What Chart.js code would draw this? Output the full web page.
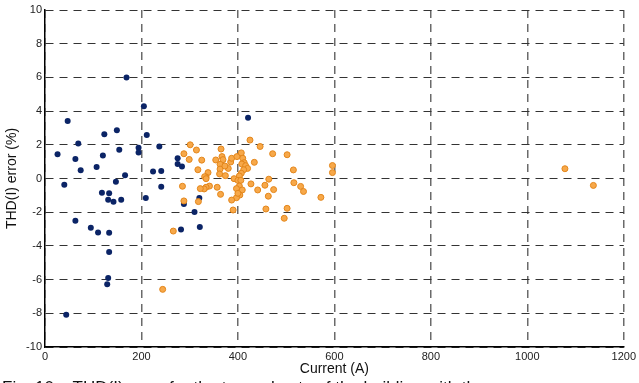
<!DOCTYPE html>
<html>
<head>
<meta charset="utf-8">
<script src="https://cdn.jsdelivr.net/npm/chart.js@4/dist/chart.umd.min.js"></script>
<style>
  html, body { margin: 0; padding: 0; background: #fff; overflow: hidden; }
  #wrap { position: relative; width: 639px; height: 383px; overflow: hidden; }
  #caption {
    position: absolute; left: 2px; top: 379px; white-space: nowrap;
    font: 17px "Liberation Sans", Arial, sans-serif; line-height: 17px; color: #111;
  }
</style>
</head>
<body>
<div id="wrap">
  <canvas id="grafico" width="639" height="383"></canvas>
  <div id="caption">Fig. 10 – THD(I) error for the two subsets of the building with the</div>
</div>
<script>
// subset 1 (navy points): current in A, THD(I) error in %
const subset1Current = [169, 205, 47, 149, 123, 211, 69, 194, 194, 26, 154, 63, 120, 237, 74, 107, 166, 224, 421, 241, 275, 275, 284,
  40, 147, 118, 133, 131, 142, 158, 209, 63, 95, 110, 133, 133, 131, 129, 44, 241, 320, 288, 310, 282, 321];
const subset1Error = [6.0, 4.29, 3.41, 2.86, 2.62, 2.58, 2.07, 1.83, 1.55, 1.44, 1.71, 1.16, 1.36, 1.9, 0.49, 0.68, 0.19, 0.42, 3.61, 0.45, 1.2, 0.86, 0.71,
  -0.37, -0.19, -0.84, -0.88, -1.26, -1.38, -1.26, -1.16, -2.5, -2.92, -3.2, -3.22, -4.36, -5.91, -6.28, -8.08, -0.49, -1.16, -1.51, -1.99, -3.02, -2.88];

// subset 2 (orange points)
const subset2Current = [301, 288, 314, 299, 325, 365, 354, 367, 369, 363, 363, 362, 374, 380, 373, 385, 387, 398, 407, 410,
  413, 408, 416, 420, 412, 407, 403, 392, 400, 406, 403, 397, 409, 404, 397, 387, 390, 434, 317, 338,
  334, 331, 334, 341, 334, 330, 322, 357, 364, 285, 288, 318, 266, 244, 425, 446, 472, 502, 515, 516,
  530, 536, 572, 596, 596, 464, 456, 474, 441, 427, 463, 458, 502, 496, 1078, 1137, 400];
const subset2Error = [2.0, 1.47, 1.69, 1.13, 1.09, 1.75, 1.1, 1.3, 1.12, 0.84, 0.56, 0.27, 0.17, 0.6, 0.74, 0.98, 1.2, 1.3, 1.52, 1.2,
  0.94, 0.86, 0.76, 0.6, 0.52, 0.31, 0.15, -0.01, -0.11, -0.11, -0.45, -0.6, -0.68, -0.98, -1.14, -1.28, -1.87, 0.96, 0.52, 0.35,
  0.09, 0.11, -0.01, -0.45, -0.52, -0.62, -0.6, -0.52, -0.94, -0.46, -1.33, -1.37, -3.12, -6.58, 2.28, 1.9, 1.47, 1.41, 0.51, -0.25,
  -0.47, -0.77, -1.12, 0.77, 0.35, -0.04, -0.4, -0.66, -0.68, -0.32, -1.05, -1.81, -1.77, -2.36, 0.58, -0.41, -0.88];

const xTicks = [0, 200, 400, 600, 800, 1000, 1200];
const yTicks = [-10, -8, -6, -4, -2, 0, 2, 4, 6, 8, 10];

function pontos(xs, ys) {
  return xs.map((x, i) => ({ x, y: ys[i] }));
}

const fonte = { family: '"Liberation Sans", Arial, sans-serif', size: 11 };
const fonteTitulo = { family: '"Liberation Sans", Arial, sans-serif', size: 14 };

const ctx = document.getElementById('grafico').getContext('2d');
new Chart(ctx, {
  type: 'scatter',
  data: {
    datasets: [
      {
        label: 'Subset 1',
        data: pontos(subset1Current, subset1Error),
        backgroundColor: '#0b2466',
        borderColor: '#0b2466',
        borderWidth: 0,
        pointRadius: 3,
        order: 2
      },
      {
        label: 'Subset 2',
        data: pontos(subset2Current, subset2Error),
        backgroundColor: '#f7a849',
        borderColor: '#e3861b',
        borderWidth: 1,
        pointRadius: 3,
        order: 1
      }
    ]
  },
  options: {
    responsive: false,
    animation: false,
    layout: { padding: { top: 10, right: 12, left: 0, bottom: 0 } },
    plugins: { legend: { display: false }, tooltip: { enabled: false } },
    scales: {
      x: {
        type: 'linear',
        min: xTicks[0],
        max: xTicks[xTicks.length - 1],
        afterFit: s => { s.height = 36; },
        afterBuildTicks: s => { s.ticks = xTicks.map(v => ({ value: v })); },
        ticks: { color: '#222', font: fonte, padding: 3, maxRotation: 0, callback: v => String(v) },
        grid: { color: '#6a6a6a', lineWidth: 1.5, drawTicks: false },
        border: { display: true, color: '#000', width: 1.5, dash: [8, 6] },
        title: { display: true, text: 'Current (A)', color: '#111', font: fonteTitulo, padding: { top: 0, bottom: 5 } }
      },
      y: {
        type: 'linear',
        min: yTicks[0],
        max: yTicks[yTicks.length - 1],
        afterFit: s => { s.width = 45; },
        afterBuildTicks: s => { s.ticks = yTicks.map(v => ({ value: v })); },
        ticks: { color: '#222', font: fonte, padding: 3, callback: v => String(v) },
        grid: { color: '#333', lineWidth: 1, drawTicks: false },
        border: { display: true, color: '#000', width: 1.5, dash: [8, 6] },
        title: { display: true, text: 'THD(I) error (%)', color: '#111', font: fonteTitulo, padding: { top: 4, bottom: 0 } }
      }
    }
  }
});
</script>
</body>
</html>
